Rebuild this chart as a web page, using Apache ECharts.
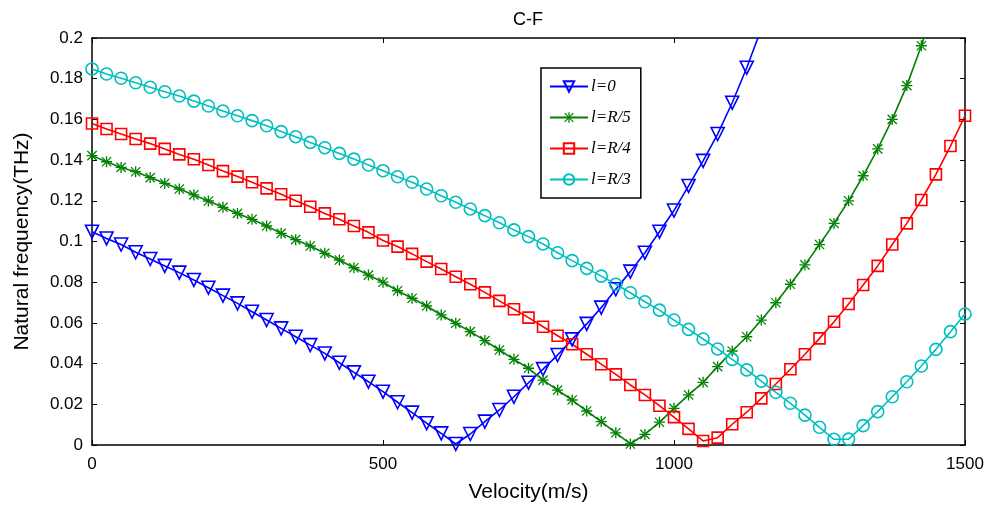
<!DOCTYPE html>
<html>
<head>
<meta charset="utf-8">
<script src="https://cdn.jsdelivr.net/npm/echarts@6/dist/echarts.min.js"></script>
<style>
  html, body { margin: 0; padding: 0; background: #fff; }
  #chart { width: 1000px; height: 512px; }
</style>
</head>
<body>
<div id="chart"></div>
<script>
// Velocity samples (m/s)
const velocity = [
  0, 25, 50, 75, 100, 125, 150, 175, 200, 225, 250, 275, 300, 325, 350, 375,
  400, 425, 450, 475, 500, 525, 550, 575, 600, 625, 650, 675, 700, 725, 750,
  775, 800, 825, 850, 875, 900, 925, 950, 975, 1000, 1025, 1050, 1075, 1100,
  1125, 1150, 1175, 1200, 1225, 1250, 1275, 1300, 1325, 1350, 1375, 1400,
  1425, 1450, 1475, 1500
];

// Natural frequency (THz) for each crack position l
const freqL0 = [
  0.1048, 0.1015, 0.0985, 0.0947, 0.0914, 0.0880, 0.0847, 0.0811, 0.0773, 0.0734,
  0.0696, 0.0655, 0.0614, 0.0573, 0.0532, 0.0491, 0.0450, 0.0404, 0.0357, 0.0311,
  0.0262, 0.0210, 0.0159, 0.0107, 0.0057, 0.0005, 0.0054, 0.0115, 0.0172, 0.0237,
  0.0306, 0.0373, 0.0442, 0.0519, 0.0595, 0.0675, 0.0765, 0.0852, 0.0945, 0.1048,
  0.1152, 0.1273, 0.1396, 0.1528, 0.1682, 0.1854, 0.2045
];
const freqR5 = [
  0.1422, 0.1392, 0.1364, 0.1343, 0.1314, 0.1286, 0.1258, 0.1229, 0.1199, 0.1168,
  0.1138, 0.1109, 0.1076, 0.1040, 0.1009, 0.0978, 0.0942, 0.0909, 0.0871, 0.0835,
  0.0800, 0.0758, 0.0721, 0.0683, 0.0639, 0.0598, 0.0557, 0.0513, 0.0467, 0.0421,
  0.0377, 0.0319, 0.0270, 0.0221, 0.0167, 0.0115, 0.0060, 0.0005, 0.0052, 0.0112,
  0.0180, 0.0246, 0.0308, 0.0385, 0.0462, 0.0532, 0.0614, 0.0699, 0.0790, 0.0885,
  0.0985, 0.1089, 0.1200, 0.1323, 0.1455, 0.1600, 0.1766, 0.1962, 0.2180
];
const freqR4 = [
  0.1580, 0.1553, 0.1528, 0.1504, 0.1481, 0.1455, 0.1428, 0.1404, 0.1376, 0.1346,
  0.1319, 0.1291, 0.1261, 0.1232, 0.1200, 0.1171, 0.1138, 0.1109, 0.1076, 0.1045,
  0.1005, 0.0975, 0.0939, 0.0901, 0.0865, 0.0827, 0.0790, 0.0750, 0.0708, 0.0667,
  0.0626, 0.0581, 0.0537, 0.0495, 0.0446, 0.0397, 0.0347, 0.0295, 0.0246, 0.0193,
  0.0137, 0.0079, 0.0020, 0.0036, 0.0102, 0.0161, 0.0229, 0.0300, 0.0372, 0.0446,
  0.0524, 0.0606, 0.0693, 0.0786, 0.0880, 0.0985, 0.1089, 0.1204, 0.1330, 0.1469,
  0.1618
];
const freqR3 = [
  0.1848, 0.1823, 0.1802, 0.1780, 0.1758, 0.1736, 0.1715, 0.1690, 0.1666, 0.1641,
  0.1618, 0.1594, 0.1569, 0.1540, 0.1515, 0.1487, 0.1461, 0.1433, 0.1405, 0.1376,
  0.1348, 0.1318, 0.1291, 0.1258, 0.1225, 0.1193, 0.1160, 0.1127, 0.1092, 0.1057,
  0.1024, 0.0988, 0.0945, 0.0906, 0.0868, 0.0830, 0.0790, 0.0748, 0.0704, 0.0663,
  0.0614, 0.0568, 0.0521, 0.0472, 0.0421, 0.0369, 0.0314, 0.0259, 0.0205, 0.0147,
  0.0087, 0.0028, 0.0029, 0.0095, 0.0164, 0.0237, 0.0311, 0.0388, 0.0470, 0.0557,
  0.0644
];

const seriesNames = ['l=0', 'l=R/5', 'l=R/4', 'l=R/3'];
const xTicks = [0, 500, 1000, 1500];

function pairs(values) {
  return values.map((f, i) => [velocity[i], f]);
}

// Asterisk marker built from four thin bars
const asterisk = 'path://M44 0L56 0L56 100L44 100Z M0 44L100 44L100 56L0 56Z ' +
  'M12 4L4 12L88 96L96 88Z M88 4L96 12L12 96L4 88Z';

const font = '"Liberation Sans", Arial, sans-serif';

function lineSeries(name, data, color, symbol, size, opts) {
  return Object.assign({
    name: name,
    type: 'line',
    data: pairs(data),
    symbol: symbol,
    symbolSize: size,
    showAllSymbol: true,
    clip: true,
    lineStyle: { color: color, width: 1.6 },
    itemStyle: { color: 'rgba(255,255,255,0)', borderColor: color, borderWidth: 1.6 },
    emphasis: { disabled: true },
    animation: false,
    z: 3
  }, opts || {});
}

const chart = echarts.init(document.getElementById('chart'), null, { renderer: 'canvas' });

const axisCommon = {
  axisLine: { show: true, onZero: false, lineStyle: { color: '#000', width: 1.5 } },
  axisTick: { show: true, inside: true, length: 5, lineStyle: { color: '#000', width: 1 } },
  splitLine: { show: false }
};

chart.setOption({
  backgroundColor: '#fff',
  animation: false,
  title: {
    text: 'C-F',
    left: 508,
    top: 6,
    textStyle: { fontFamily: font, fontWeight: 'normal', fontSize: 18, color: '#000' }
  },
  grid: { left: 92, right: 35, top: 38, bottom: 67 },
  legend: {
    data: seriesNames,
    orient: 'vertical',
    left: 541,
    top: 68,
    padding: [10, 10, 10, 8],
    itemWidth: 38,
    itemHeight: 13,
    itemGap: 14,
    borderColor: '#000',
    borderWidth: 1.5,
    backgroundColor: '#fff',
    textStyle: { fontFamily: '"Liberation Serif", "Times New Roman", serif', fontStyle: 'italic', fontSize: 17, color: '#000', padding: [0, 0, 0, -2] }
  },
  xAxis: [
    Object.assign({
      type: 'value', min: 0, max: 1500, interval: 500,
      name: 'Velocity(m/s)', nameLocation: 'middle', nameGap: 37,
      nameTextStyle: { fontFamily: font, fontSize: 21, color: '#000' },
      axisLabel: { fontFamily: font, fontSize: 17, color: '#000', margin: 11,
        formatter: v => xTicks.includes(v) ? String(v) : '' }
    }, axisCommon),
    Object.assign({
      type: 'value', min: 0, max: 1500, interval: 500, position: 'top',
      axisLabel: { show: false }
    }, axisCommon)
  ],
  yAxis: [
    Object.assign({
      type: 'value', min: 0, max: 0.2, interval: 0.02,
      name: 'Natural frequency(THz)', nameLocation: 'middle', nameGap: 59,
      nameTextStyle: { fontFamily: font, fontSize: 21, color: '#000' },
      axisLabel: { fontFamily: font, fontSize: 17, color: '#000', margin: 9,
        formatter: v => String(Math.round(v * 100) / 100) }
    }, axisCommon),
    Object.assign({
      type: 'value', min: 0, max: 0.2, interval: 0.02, position: 'right',
      axisLabel: { show: false }
    }, axisCommon)
  ],
  series: [
    lineSeries(seriesNames[0], freqL0, '#0000ff', 'triangle', 13, { symbolRotate: 180 }),
    lineSeries(seriesNames[1], freqR5, '#008000', asterisk, 11,
      { itemStyle: { color: '#008000', borderWidth: 0 } }),
    lineSeries(seriesNames[2], freqR4, '#ff0000', 'rect', 11),
    lineSeries(seriesNames[3], freqR3, '#00bfbf', 'circle', 12)
  ]
});
</script>
</body>
</html>
